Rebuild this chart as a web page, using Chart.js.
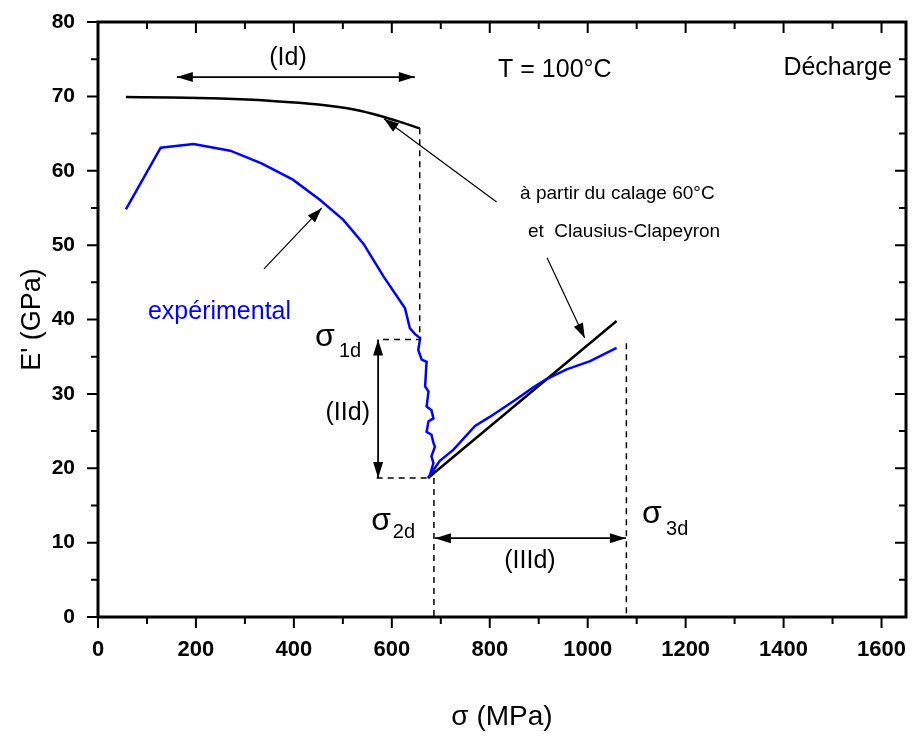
<!DOCTYPE html>
<html>
<head>
<meta charset="utf-8">
<script src="https://cdn.jsdelivr.net/npm/chart.js@4.4.0/dist/chart.umd.min.js"></script>
<style>
  html, body { margin: 0; padding: 0; background: #fff; }
</style>
</head>
<body>
<canvas id="myChart" width="912" height="738"></canvas>
<script>
// Courbe expérimentale (bleue) - sigma en MPa, E' en GPa
const sigmaExp = [57, 128, 195, 270, 334, 398, 453, 501, 542, 583, 627, 637, 648, 658,
  654, 661, 671, 668, 675, 671, 681, 685, 675, 671, 681, 685, 688, 681, 685, 678, 674,
  698, 726, 770, 800, 855, 889, 916, 957, 1005, 1059];
const modulusExp = [54.8, 63.1, 63.6, 62.7, 61.0, 58.8, 56.1, 53.4, 50.2, 45.8, 41.5, 38.8, 38.0, 37.5,
  35.9, 34.6, 34.3, 31.0, 30.3, 28.3, 27.8, 26.7, 26.3, 24.9, 24.5, 23.4, 22.9, 21.6, 20.7, 19.1, 18.7,
  21.0, 22.5, 25.7, 26.9, 29.3, 30.9, 32.0, 33.3, 34.4, 36.2];

// à partir du calage 60°C et Clausius-Clapeyron (noir)
const sigmaModel = [57, 150, 250, 350, 450, 525, 575, 620, 657];
const modulusModel = [69.9, 69.85, 69.7, 69.4, 68.9, 68.2, 67.4, 66.5, 65.7];
const sigmaLin = [674, 1059];
const modulusLin = [18.7, 39.8];

// lignes pointillées (limites des domaines)
const guide1dX = [657, 657, 575];
const guide1dY = [65.7, 37.3, 37.3];
const guide2dX = [569, 674];
const guide2dY = [18.7, 18.7];
const guide2dVX = [686, 686];
const guide2dVY = [18.7, 0];
const guide3dX = [1079, 1079];
const guide3dY = [36.8, 0];

const xTicks = [0, 200, 400, 600, 800, 1000, 1200, 1400, 1600];
const yTicks = [0, 10, 20, 30, 40, 50, 60, 70, 80];

const pts = (xs, ys) => xs.map((x, i) => ({ x: x, y: ys[i] }));

// flèches (coordonnées en MPa / GPa)
const doubleArrows = [
  { x1: 161, y1: 72.6, x2: 647, y2: 72.6 },   // (Id)
  { x1: 572, y1: 37.3, x2: 572, y2: 18.7 },   // (IId)
  { x1: 688, y1: 10.6, x2: 1078, y2: 10.6 }   // (IIId)
];
const singleArrows = [
  { x1: 814, y1: 55.8, x2: 584, y2: 67.0 },
  { x1: 917, y1: 48.3, x2: 994, y2: 37.5 },
  { x1: 339, y1: 46.8, x2: 457, y2: 55.0 }
];

const FONT = '"Liberation Sans", Arial, sans-serif';
const labels = [
  { t: '(Id)', x: 388, y: 74.2, size: 25, align: 'center' },
  { t: 'T = 100°C', x: 817, y: 72.6, size: 25, align: 'left' },
  { t: 'Décharge', x: 1621, y: 72.9, size: 25, align: 'right' },
  { t: 'à partir du calage 60°C', x: 862, y: 56.2, size: 19, align: 'left' },
  { t: 'et  Clausius-Clapeyron', x: 878, y: 51.1, size: 19, align: 'left' },
  { t: 'expérimental', x: 102, y: 40.1, size: 25, align: 'left', color: '#0000ff' },
  { t: '(IId)', x: 510, y: 26.5, size: 25, align: 'center' },
  { t: '(IIId)', x: 882, y: 6.6, size: 25, align: 'center' },
  { t: 'σ', x: 443, y: 36.4, size: 32, align: 'left' },
  { t: '1d', x: 492, y: 35.0, size: 20, align: 'left' },
  { t: 'σ', x: 558, y: 11.7, size: 32, align: 'left' },
  { t: '2d', x: 602, y: 10.6, size: 20, align: 'left' },
  { t: 'σ', x: 1111, y: 12.6, size: 32, align: 'left' },
  { t: '3d', x: 1160, y: 11.0, size: 20, align: 'left' }
];

function head(ctx, x1, y1, x2, y2, len, half) {
  const a = Math.atan2(y2 - y1, x2 - x1);
  const c = Math.cos(a), s = Math.sin(a);
  ctx.beginPath();
  ctx.moveTo(x2, y2);
  ctx.lineTo(x2 - len * c + half * s, y2 - len * s - half * c);
  ctx.lineTo(x2 - len * c - half * s, y2 - len * s + half * c);
  ctx.closePath();
  ctx.fill();
}

const decorPlugin = {
  id: 'decor',
  afterDatasetsDraw(chart) {
    const { ctx, chartArea: ca, scales: { x, y } } = chart;
    ctx.save();
    ctx.strokeStyle = '#000';
    ctx.fillStyle = '#000';

    // cadre + graduations
    ctx.lineWidth = 2;
    ctx.beginPath();
    for (let v = 0; v <= 1650; v += 100) {
      const px = x.getPixelForValue(v);
      const L = v % 200 === 0 ? 11 : 7;
      ctx.moveTo(px, ca.bottom); ctx.lineTo(px, ca.bottom + L);
      ctx.moveTo(px, ca.top); ctx.lineTo(px, ca.top + L);
    }
    for (let v = 0; v <= 80; v += 5) {
      const py = y.getPixelForValue(v);
      const L = v % 10 === 0 ? 11 : 7;
      ctx.moveTo(ca.left, py); ctx.lineTo(ca.left - L, py);
      ctx.moveTo(ca.right, py); ctx.lineTo(ca.right - L, py);
    }
    ctx.stroke();
    ctx.lineWidth = 3;
    ctx.strokeRect(ca.left, ca.top, ca.right - ca.left, ca.bottom - ca.top);

    // flèches doubles
    ctx.lineWidth = 1.8;
    doubleArrows.forEach(a => {
      const x1 = x.getPixelForValue(a.x1), y1 = y.getPixelForValue(a.y1);
      const x2 = x.getPixelForValue(a.x2), y2 = y.getPixelForValue(a.y2);
      ctx.beginPath(); ctx.moveTo(x1, y1); ctx.lineTo(x2, y2); ctx.stroke();
      head(ctx, x1, y1, x2, y2, 16, 5);
      head(ctx, x2, y2, x1, y1, 16, 5);
    });
    // flèches simples
    ctx.lineWidth = 1.2;
    singleArrows.forEach(a => {
      const x1 = x.getPixelForValue(a.x1), y1 = y.getPixelForValue(a.y1);
      const x2 = x.getPixelForValue(a.x2), y2 = y.getPixelForValue(a.y2);
      ctx.beginPath(); ctx.moveTo(x1, y1); ctx.lineTo(x2, y2); ctx.stroke();
      head(ctx, x1, y1, x2, y2, 15, 5);
    });

    // textes
    ctx.textBaseline = 'alphabetic';
    labels.forEach(l => {
      ctx.font = l.size + 'px ' + FONT;
      ctx.fillStyle = l.color || '#000';
      ctx.textAlign = l.align;
      ctx.fillText(l.t, x.getPixelForValue(l.x), y.getPixelForValue(l.y));
    });
    ctx.restore();
  }
};

const dashed = (xs, ys) => ({
  data: pts(xs, ys), showLine: true, borderColor: '#000', borderWidth: 1.5,
  borderDash: [6, 5], pointRadius: 0, fill: false
});

// zéro marge automatique pour garder la zone de tracé fixe
const noPad = s => { s.paddingLeft = 0; s.paddingRight = 0; s.paddingTop = 0; s.paddingBottom = 0; };

const ctx = document.getElementById('myChart').getContext('2d');
const myChart = new Chart(ctx, {
  type: 'scatter',
  data: {
    datasets: [
      dashed(guide1dX, guide1dY),
      dashed(guide2dX, guide2dY),
      dashed(guide2dVX, guide2dVY),
      dashed(guide3dX, guide3dY),
      {
        label: 'expérimental',
        data: pts(sigmaExp, modulusExp),
        showLine: true, borderColor: '#0000ff', borderWidth: 2.5, pointRadius: 0
      },
      {
        label: 'calage 60°C',
        data: pts(sigmaModel, modulusModel),
        showLine: true, borderColor: '#000', borderWidth: 2.5, pointRadius: 0,
        cubicInterpolationMode: 'monotone'
      },
      {
        label: 'Clausius-Clapeyron',
        data: pts(sigmaLin, modulusLin),
        showLine: true, borderColor: '#000', borderWidth: 2.5, pointRadius: 0
      }
    ]
  },
  options: {
    responsive: false,
    animation: false,
    devicePixelRatio: 1,
    layout: { padding: { top: 22, right: 6, left: 0, bottom: 0 } },
    plugins: { legend: { display: false }, tooltip: { enabled: false } },
    scales: {
      x: {
        type: 'linear', min: 0, max: 1650,
        afterBuildTicks: s => { s.ticks = xTicks.map(v => ({ value: v })); },
        afterFit: s => { s.height = 121; noPad(s); },
        grid: { display: false, drawTicks: false },
        border: { display: false },
        ticks: { color: '#000', padding: 20, maxRotation: 0, autoSkip: false,
          callback: v => String(v),
          font: { family: FONT, size: 22, weight: 'bold' } },
        title: { display: true, text: 'σ (MPa)', color: '#000',
          font: { family: FONT, size: 28 }, padding: { top: 0, bottom: 4 } }
      },
      y: {
        type: 'linear', min: 0, max: 80,
        afterBuildTicks: s => { s.ticks = yTicks.map(v => ({ value: v })); },
        afterFit: s => { s.width = 98; noPad(s); },
        grid: { display: false, drawTicks: false },
        border: { display: false },
        ticks: { color: '#000', padding: 23, autoSkip: false,
          callback: v => String(v),
          font: { family: FONT, size: 21, weight: 'bold' } },
        title: { display: true, text: "E' (GPa)", color: '#000',
          font: { family: FONT, size: 27 }, padding: { top: 16, bottom: 0 } }
      }
    }
  },
  plugins: [decorPlugin]
});
</script>
</body>
</html>
